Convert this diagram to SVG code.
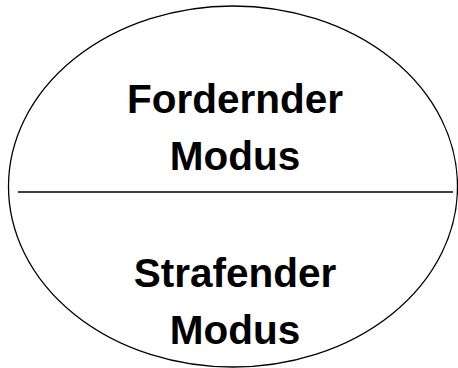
<svg xmlns="http://www.w3.org/2000/svg" width="458" height="368" viewBox="0 0 458 368">
<style>
.t{font-family:"Liberation Sans",Arial,sans-serif;font-weight:bold;font-size:40.5px;fill:#000;text-anchor:middle}
.s{fill:#fff;stroke:#000;stroke-width:1.3}
</style>
<rect width="458" height="368" fill="#fff"/>
<g id="ellipse">
<ellipse class="s" cx="233" cy="186.5" rx="224.5" ry="180.5"/>
</g>
<g id="connectors">
<line x1="18" y1="192" x2="453" y2="192" stroke="#000" stroke-width="1.3"/>
</g>
<g id="node-fordernder">
<text class="t" x="235" y="113">Fordernder</text>
<text class="t" x="235" y="170">Modus</text>
</g>
<g id="node-strafender">
<text class="t" x="235" y="287">Strafender</text>
<text class="t" x="235" y="344">Modus</text>
</g>
</svg>
